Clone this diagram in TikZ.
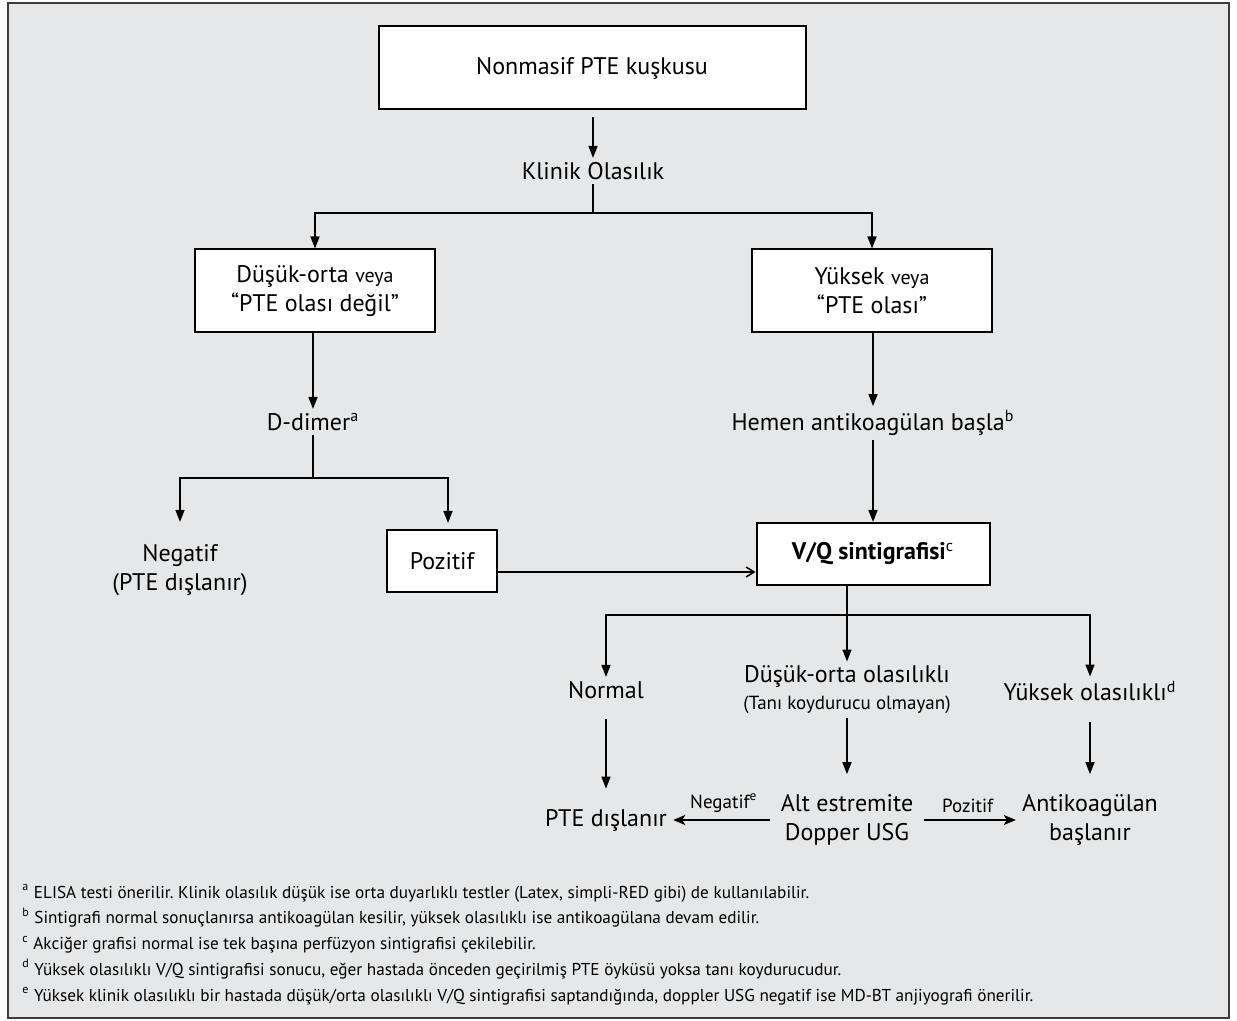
\documentclass[tikz,border=0pt]{standalone}
\usepackage{fontspec}
\setmainfont{PT Sans}
\usetikzlibrary{arrows.meta}
\frenchspacing

\begin{document}
\begin{tikzpicture}[x=0.5pt, y=-0.5pt,
    box/.style={draw=black, line width=1pt, fill=white, align=center, inner sep=2pt, font=\fontsize{12}{14.5}\selectfont},
    txt/.style={align=center, inner sep=2pt, font=\fontsize{12}{14.5}\selectfont},
    lbl/.style={inner sep=1.5pt, font=\fontsize{9.5}{11}\selectfont},
    link/.style={line width=0.75pt},
    arr/.style={link, -{Triangle[length=6pt, width=4.5pt]}},
    barb/.style={link, -{Straight Barb[length=4pt, width=5pt]}},
    sharp/.style={link, -{Stealth[length=6pt, width=5pt, inset=1.5pt]}}]

% Define colors
\definecolor{panel}{RGB}{230, 231, 232}
\definecolor{frame}{RGB}{60, 60, 60}

\useasboundingbox (0,0) rectangle (1237,1021);

% Background panel
\draw[frame, line width=1.2pt, fill=panel] (8,3) rectangle (1229,1018);

% Top
\node[box, minimum width=213.5pt, minimum height=41.5pt] (start) at (592,68) {Nonmasif PTE kuşkusu};
\node[txt] (klinik) at (593,171) {Klinik Olasılık};
\coordinate (ksplit) at (593,213);

% Clinical probability
\node[box, minimum width=120pt, minimum height=41.5pt] (dusuk) at (315,291) {Düşük-orta {\fontsize{10}{12}\selectfont veya}\\“PTE olası değil”};
\node[box, minimum width=120pt, minimum height=41.5pt] (yuksek) at (872,291) {Yüksek {\fontsize{10}{12}\selectfont veya}\\“PTE olası”};

% Left branch
\node[txt] (ddimer) at (313,422) {D-dimer\textsuperscript{a}};
\coordinate (dsplit) at (313,478);
\node[txt] (negatif) at (180,570) {Negatif\\(PTE dışlanır)};
\node[box, minimum width=55pt, minimum height=31pt] (pozitif) at (442,561) {Pozitif};

% Right branch
\node[txt] (hemen) at (873,423) {Hemen antikoagülan başla\textsuperscript{b}};
\node[box, minimum width=116.5pt, minimum height=31pt] (vq) at (873,554) {\textbf{V/Q sintigrafisi}\textsuperscript{c}};
\coordinate (vsplit) at (847,615);

% Scan results
\node[txt] (normal) at (606,690) {Normal};
\node[txt] (orta) at (847,690) {Düşük-orta olasılıklı\\[-1pt]{\fontsize{9.5}{11}\selectfont (Tanı koydurucu olmayan)}};
\node[txt] (yuksekol) at (1090,691) {Yüksek olasılıklı\textsuperscript{d}};

% Outcomes
\node[txt] (dislanir) at (606,820) {PTE dışlanır};
\node[txt] (usg) at (847,820) {Alt estremite\\Dopper USG};
\node[txt] (antiko) at (1090,820) {Antikoagülan\\başlanır};

% Connectors
\draw[arr, shorten <=3.5pt] (start.south -| klinik) -- (klinik.north);
\draw[link] (klinik.south) -- (ksplit);
\draw[arr] (ksplit) -| (dusuk.north);
\draw[arr] (ksplit) -| (yuksek.north);

\draw[arr] (dusuk.south -| ddimer) -- (ddimer.north);
\draw[link] (ddimer.south) -- (dsplit);
\draw[arr, shorten >=9pt] (dsplit) -| (negatif.north);
\draw[arr, shorten >=3pt] (dsplit) -| ([xshift=3pt]pozitif.north);

\draw[arr] (yuksek.south -| hemen) -- (hemen.north);
\draw[arr] (hemen.south) -- (vq.north);
\draw[barb] ([yshift=-5.5pt]pozitif.east) -- ([yshift=-5.5pt]pozitif.east -| vq.west);

\draw[link] (vq.south -| vsplit) -- (vsplit);
\draw[arr] (vsplit) -| (normal.north);
\draw[arr] (vsplit) -- (orta.north);
\draw[arr] (vsplit) -| (yuksekol.north);

\draw[arr, shorten <=8pt, shorten >=8pt] (normal.south) -- (dislanir.north);
\draw[arr, shorten >=8pt] (orta.south) -- (usg.north);
\draw[arr, shorten <=8pt, shorten >=8pt] (yuksekol.south) -- (antiko.north);

\draw[sharp, shorten <=3pt, shorten >=1pt] (usg.west) -- (dislanir.east)
    node[lbl, midway, above, yshift=2pt] {Negatif\textsuperscript{e}};
\draw[sharp, shorten <=3pt, shorten >=1pt] (usg.east) -- (antiko.west)
    node[lbl, midway, above, yshift=2pt] {Pozitif};

% Footnotes
\node[anchor=north west, align=left, inner sep=0pt, font=\fontsize{8.6}{12.9}\selectfont] (notes) at (22,884) {%
\textsuperscript{a} ELISA testi önerilir. Klinik olasılık düşük ise orta duyarlıklı testler (Latex, simpli-RED gibi) de kullanılabilir.\\
\textsuperscript{b} Sintigrafi normal sonuçlanırsa antikoagülan kesilir, yüksek olasılıklı ise antikoagülana devam edilir.\\
\textsuperscript{c} Akciğer grafisi normal ise tek başına perfüzyon sintigrafisi çekilebilir.\\
\textsuperscript{d} Yüksek olasılıklı V/Q sintigrafisi sonucu, eğer hastada önceden geçirilmiş PTE öyküsü yoksa tanı koydurucudur.\\
\textsuperscript{e} Yüksek klinik olasılıklı bir hastada düşük/orta olasılıklı V/Q sintigrafisi saptandığında, doppler USG negatif ise MD-BT anjiyografi önerilir.};

\end{tikzpicture}
\end{document}
